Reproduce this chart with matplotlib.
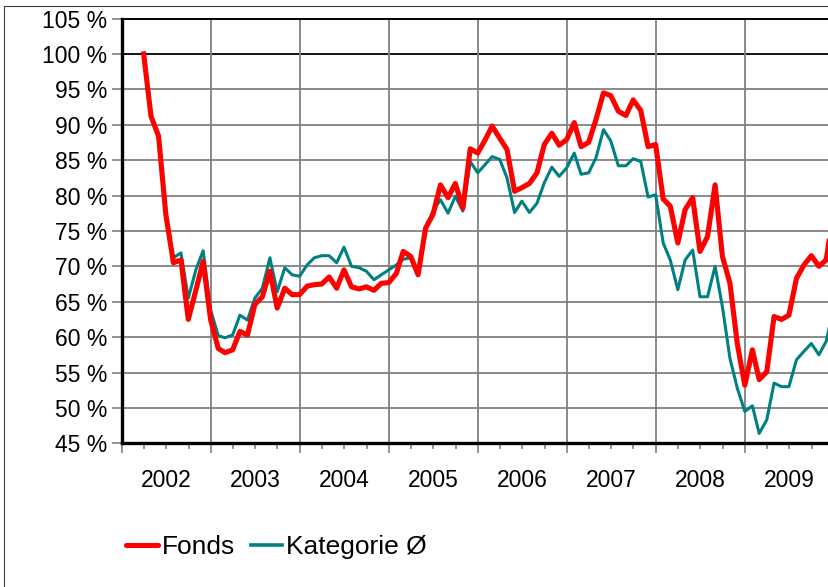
import matplotlib
matplotlib.use("Agg")
import matplotlib.pyplot as plt
import matplotlib.dates as mdates
from matplotlib.patches import Rectangle
from matplotlib.lines import Line2D
import pandas as pd
import datetime as dt

plt.rcParams['font.family'] = ['Liberation Sans', 'DejaVu Sans']

# ---- data (monthly, % of start value) ----
start_month = "2002-03-31"
fonds = [100.0, 91.2, 88.4, 77.3, 70.5, 70.9, 62.5, 66.6, 70.7, 62.4,
         58.4, 57.8, 58.2, 60.8, 60.3, 64.6, 65.7, 69.3, 64.1, 66.9,
         66.0, 66.0, 67.2, 67.4, 67.5, 68.5, 66.9, 69.5, 67.1, 66.8,
         67.1, 66.6, 67.6, 67.7, 69.0, 72.1, 71.4, 68.8, 75.4, 77.3,
         81.5, 79.7, 81.7, 78.2, 86.6, 86.0, 87.9, 89.8, 88.1, 86.5,
         80.6, 81.1, 81.7, 83.2, 87.2, 88.8, 87.1, 87.9, 90.3, 86.9,
         87.5, 90.7, 94.5, 94.1, 91.9, 91.3, 93.5, 92.0, 86.9, 87.2,
         79.5, 78.5, 73.3, 78.0, 79.7, 72.1, 74.2, 81.5, 71.4, 67.6,
         59.1, 53.2, 58.2, 54.0, 55.1, 62.9, 62.5, 63.1, 68.3, 70.2,
         71.5, 70.0, 70.9, 78.0]
kategorie = [100.0, 91.2, 88.4, 77.3, 71.2, 71.9, 65.5, 69.5, 72.2, 63.8,
             60.2, 59.9, 60.3, 63.1, 62.4, 65.5, 66.9, 71.2, 66.4, 69.8,
             68.8, 68.6, 70.2, 71.2, 71.5, 71.5, 70.5, 72.7, 70.0, 69.8,
             69.3, 68.1, 68.8, 69.5, 70.2, 71.0, 71.2, 69.0, 75.2, 77.8,
             79.4, 77.5, 79.9, 77.8, 84.8, 83.2, 84.4, 85.5, 85.1, 82.5,
             77.6, 79.2, 77.6, 78.9, 81.8, 84.0, 82.7, 83.9, 86.0, 83.0,
             83.2, 85.3, 89.3, 87.7, 84.2, 84.2, 85.2, 84.8, 79.8, 80.1,
             73.3, 70.9, 66.7, 70.9, 72.3, 65.7, 65.7, 70.0, 64.3, 57.0,
             52.8, 49.5, 50.3, 46.4, 48.3, 53.5, 53.0, 53.0, 56.8, 58.0,
             59.1, 57.5, 59.4, 64.3]
years = [2002, 2003, 2004, 2005, 2006, 2007, 2008, 2009]
y_ticks = [45, 50, 55, 60, 65, 70, 75, 80, 85, 90, 95, 100, 105]
labels = ["Fonds", "Kategorie Ø"]

dates = pd.date_range(start_month, periods=len(fonds), freq="ME")

W, H = 829, 587
fig = plt.figure(figsize=(W / 100, H / 100), dpi=100)
fig.patch.set_facecolor("white")

# outer frame
fig.add_artist(Rectangle((4 / W, -0.1), 1.2, 1 - 6 / H + 0.1, transform=fig.transFigure,
                         fill=False, edgecolor="#404040", linewidth=0.8))

left, right, top, bottom = 122, 834, 18.5, 443.3
ax = fig.add_axes([left / W, 1 - bottom / H, (right - left) / W, (bottom - top) / H])

red = "#FF0000"
teal = "#008080"
ax.plot(dates, kategorie, color=teal, lw=2.2, zorder=3, solid_joinstyle="round")
ax.plot(dates, fonds, color=red, lw=3.7, zorder=4, solid_joinstyle="round")

ax.set_ylim(45, 105)
ax.set_xlim(dt.datetime(2002, 1, 1), dt.datetime(2010, 1, 1))

tick_fs = 16.5
ax.set_yticks(y_ticks)
ax.set_yticklabels([f"{v} %" for v in y_ticks], fontsize=tick_fs)

ax.xaxis.set_major_locator(mdates.YearLocator())
ax.xaxis.set_minor_locator(mdates.MonthLocator(bymonth=[4, 7, 10]))
ax.xaxis.set_major_formatter(plt.NullFormatter())

for yr in years:
    ax.text(dt.datetime(yr, 7, 2), -0.088, str(yr), transform=ax.get_xaxis_transform(),
            ha="center", va="center", fontsize=tick_fs)

ax.tick_params(axis="y", which="major", direction="out", length=7.5, width=1.2,
               color="#808080", pad=3)
ax.tick_params(axis="x", which="major", direction="out", length=7.5, width=1.2,
               color="#808080")
ax.tick_params(axis="x", which="minor", direction="out", length=4.5, width=1.2,
               color="#808080")

# grid
for v in y_ticks[1:-1]:
    ax.axhline(v, color="black" if v == 100 else "#808080", lw=1.3, zorder=1)
for yr in years[1:]:
    ax.axvline(dt.datetime(yr, 1, 1), color="#808080", lw=1.3, zorder=1)

ax.spines["left"].set_linewidth(2.4)
ax.spines["bottom"].set_linewidth(2.4)
ax.spines["top"].set_linewidth(1.4)
ax.spines["right"].set_visible(False)
for s in ["left", "bottom", "top"]:
    ax.spines[s].set_color("black")
    ax.spines[s].set_zorder(5)

handles = [Line2D([], [], color=red, lw=3.7, solid_capstyle="round"),
           Line2D([], [], color=teal, lw=2.6)]
fig.legend(handles, labels, loc="center left", bbox_to_anchor=(126 / W, 1 - 547 / H),
           ncol=2, frameon=False, fontsize=19, handlelength=1.2,
           handletextpad=0.15, columnspacing=0.6, borderpad=0, borderaxespad=0)

fig.savefig("out.png", dpi=100)
